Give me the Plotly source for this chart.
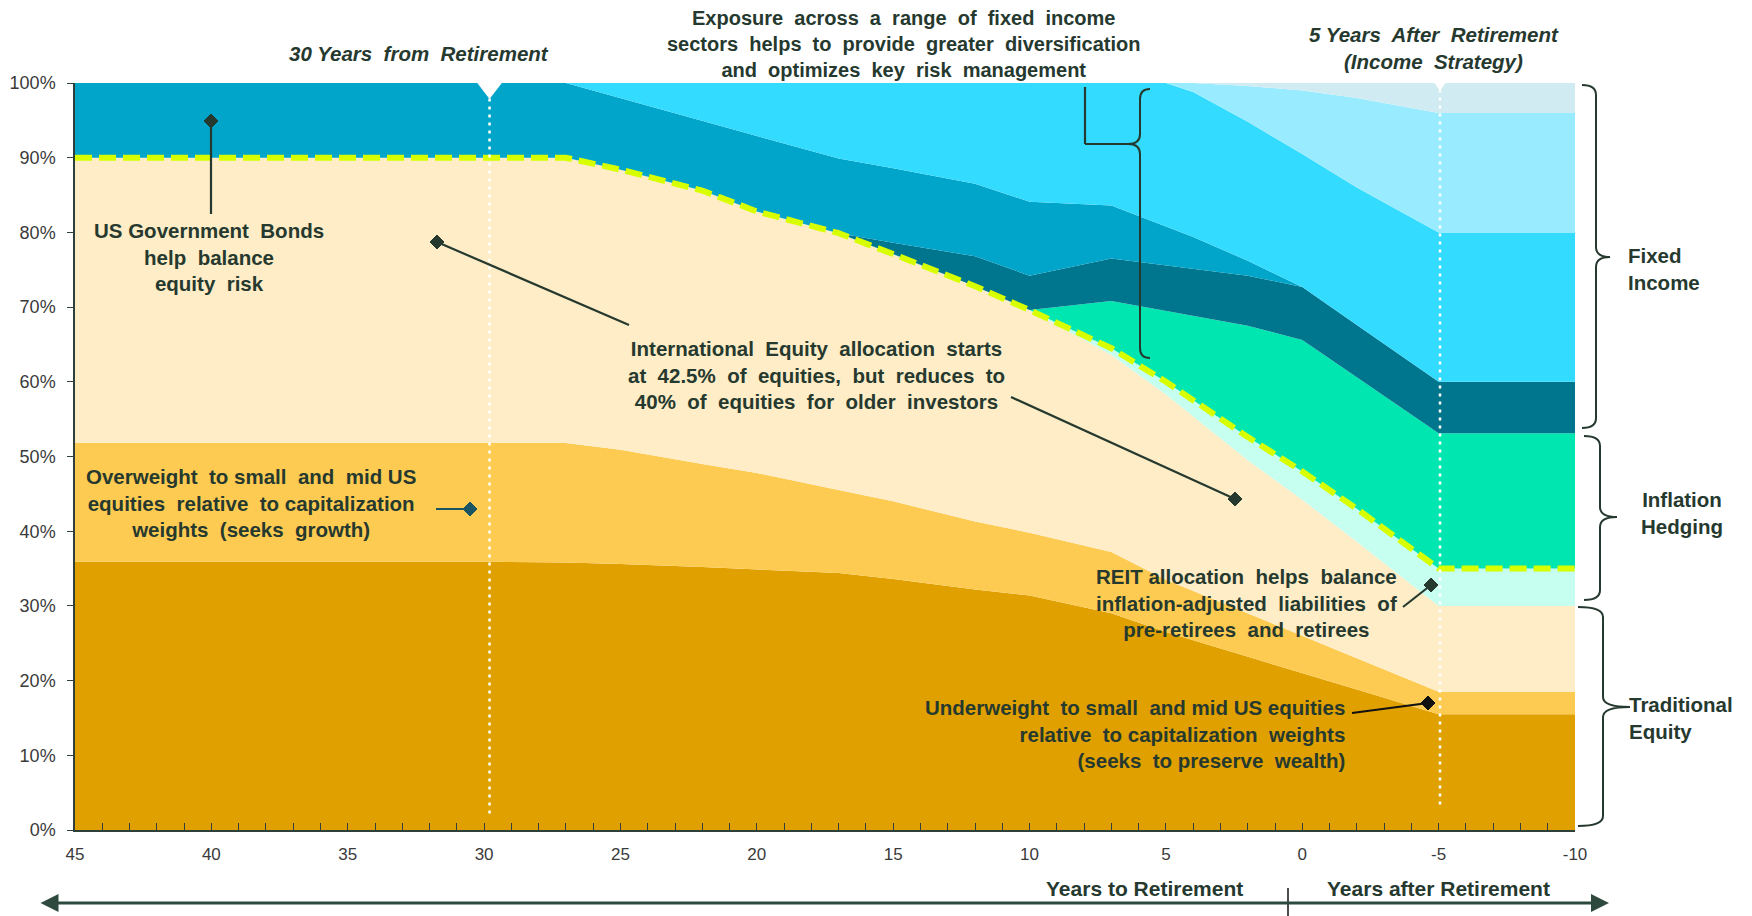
import numpy as np
import plotly.graph_objects as go

# ---------------- data (percent of portfolio) ----------------
years = [45, 40, 35, 30, 27, 25, 22, 20, 17, 15, 12, 10, 7, 5, 4, 2, 0, -2, -5, -10]

us_large_cap     = [35.9, 35.9, 35.9, 35.9, 35.8, 35.6, 35.2, 34.9, 34.4, 33.6, 32.2, 31.4, 29.0, 26.5, 25.4, 23.3, 21.0, 18.8, 15.5, 15.5]
us_small_mid_cap = [15.9, 15.9, 15.9, 15.9, 16.0, 15.3, 13.8, 12.9, 11.1, 10.4, 9.1, 8.4, 8.2, 7.0, 6.6, 5.7, 5.0, 4.2, 3.0, 3.0]
intl_equity      = [38.2, 38.2, 38.2, 38.2, 38.2, 37.5, 36.6, 35.0, 34.4, 33.1, 31.5, 29.8, 26.4, 24.8, 23.3, 20.5, 18.2, 15.6, 11.5, 11.5]
reits            = [0, 0, 0, 0, 0, 0, 0, 0, 0, 0, 0, 0, 0.9, 1.7, 2.2, 3.1, 3.8, 4.4, 5.0, 5.0]
commodities_tips = [0, 0, 0, 0, 0, 0, 0, 0, 0, 0, 0, 0, 6.3, 9.5, 11.3, 14.9, 17.6, 17.6, 18.1, 18.1]
high_yield       = [0, 0, 0, 0, 0, 0, 0, 0, 0, 1.5, 4.0, 4.6, 5.7, 6.1, 6.3, 6.7, 7.1, 7.0, 6.9, 6.9]
us_gov_bonds     = [10.0, 10.0, 10.0, 10.0, 10.0, 9.6, 9.3, 10.1, 10.0, 10.0, 9.7, 9.9, 7.1, 5.2, 4.3, 2.0, 0, 0, 0, 0]
core_bonds       = [0, 0, 0, 0, 0, 2.0, 5.1, 7.1, 10.1, 11.4, 13.5, 15.9, 16.4, 19.2, 19.4, 18.6, 17.8, 18.4, 20.0, 20.0]
short_bonds      = [0, 0, 0, 0, 0, 0, 0, 0, 0, 0, 0, 0, 0, 0, 1.2, 4.8, 8.5, 12.0, 16.0, 16.0]
cash             = [0, 0, 0, 0, 0, 0, 0, 0, 0, 0, 0, 0, 0, 0, 0, 0.4, 1.0, 2.0, 4.0, 4.0]

x_tick_vals = [45, 40, 35, 30, 25, 20, 15, 10, 5, 0, -5, -10]
x_tick_text = ["45", "40", "35", "30", "25", "20", "15", "10", "5", "0", "-5", "-10"]
y_tick_vals = [0, 10, 20, 30, 40, 50, 60, 70, 80, 90, 100]
y_tick_text = [f"{v}%" for v in y_tick_vals]

layers = [
    ("US Large Cap", us_large_cap, "#E0A000"),
    ("US Small/Mid Cap", us_small_mid_cap, "#FECB52"),
    ("International Equity", intl_equity, "#FEEDC6"),
    ("REITs", reits, "#C6FFF0"),
    ("Commodities / TIPS", commodities_tips, "#00E6B1"),
    ("High Yield", high_yield, "#00758E"),
    ("US Government Bonds", us_gov_bonds, "#00A5C9"),
    ("Core Bonds", core_bonds, "#33DBFF"),
    ("Short-Term Bonds", short_bonds, "#99ECFF"),
    ("Cash", cash, "#D0ECF2"),
]

TXT = "#26392F"
FONT = "Liberation Sans, Arial, sans-serif"
FS = 20.5

fig = go.Figure()
for name, vals, col in layers:
    fig.add_trace(go.Scatter(
        x=years, y=vals, name=name, stackgroup="alloc", mode="lines",
        line=dict(width=0, color=col), fillcolor=col, hoverinfo="skip"))

total_equity = np.array(us_large_cap) + np.array(us_small_mid_cap) + np.array(intl_equity) + np.array(reits)
fig.add_trace(go.Scatter(x=years, y=total_equity, mode="lines",
                         line=dict(color="#D8FF00", width=6, dash="17px,7px"),
                         hoverinfo="skip", name="Equity"))

# ---------------- layout geometry ----------------
# page has an 8px body margin; helpers take page-pixel positions
PAGE_OFF = 8
FIG_W, FIG_H = 1744, 908
L, T, W, H = 67, 75, 1500, 747          # figure-pixel plot area
PL, PT = L + PAGE_OFF, T + PAGE_OFF     # page-pixel plot origin

def X(px):
    return (px - PL) / W
def Y(py):
    return (PT + H - py) / H

shapes = []
annotations = []

def seg(x0, y0, x1, y1, color=TXT, width=2.2):
    shapes.append(dict(type="line", xref="paper", yref="paper",
                       x0=X(x0), y0=Y(y0), x1=X(x1), y1=Y(y1),
                       line=dict(color=color, width=width)))

def diamond(cx, cy, s=7, color=TXT):
    p = (f"M {X(cx)},{Y(cy - s)} L {X(cx + s)},{Y(cy)} L {X(cx)},{Y(cy + s)} "
         f"L {X(cx - s)},{Y(cy)} Z")
    shapes.append(dict(type="path", xref="paper", yref="paper", path=p,
                       fillcolor=color, line=dict(color=color, width=1)))

def brace(x0, xs, xt, yt, ym, yb, r=10):
    pts = (f"M {X(x0)},{Y(yt)} Q {X(xs)},{Y(yt)} {X(xs)},{Y(yt + r)} "
           f"L {X(xs)},{Y(ym - r)} Q {X(xs)},{Y(ym)} {X(xt)},{Y(ym)} "
           f"Q {X(xs)},{Y(ym)} {X(xs)},{Y(ym + r)} "
           f"L {X(xs)},{Y(yb - r)} Q {X(xs)},{Y(yb)} {X(x0)},{Y(yb)}")
    shapes.append(dict(type="path", xref="paper", yref="paper", path=pts,
                       line=dict(color=TXT, width=2)))

def note(text, px, py, size=FS, xanchor="center", align="center", italic=False, color=TXT):
    t = f"<b><i>{text}</i></b>" if italic else f"<b>{text}</b>"
    annotations.append(dict(text=t, xref="paper", yref="paper", x=X(px), y=Y(py),
                            xanchor=xanchor, yanchor="middle", align=align,
                            showarrow=False, font=dict(family=FONT, size=size, color=color)))

# dotted white markers near 30 years and -5 years
for xv, ybot, tw, th in [(29.8, 2.2, 0.45, 16), (-5.05, 3.4, 0.2, 8)]:
    shapes.append(dict(type="line", xref="x", yref="y", x0=xv, x1=xv, y0=ybot, y1=99.5,
                       line=dict(color="white", width=2.5, dash="3px,5px")))
    shapes.append(dict(type="path", xref="x", yref="paper",
                       path=f"M {xv - tw},1 L {xv + tw},1 L {xv},{1 - th / H} Z",
                       fillcolor="white", line=dict(color="white", width=0)))

# leader lines and diamonds
seg(211, 121, 211, 214)
diamond(211, 121)
seg(437, 242, 629, 325)
diamond(437, 242)
seg(1011, 397, 1235, 499)
diamond(1235, 499)
seg(436, 509, 470, 509, color="#1A5564")
diamond(470, 509, color="#1A5564")
seg(1403, 607, 1431, 585)
diamond(1431, 585)
seg(1352, 713, 1428, 703, color="#111111")
diamond(1428, 703, color="#111111")

# bracket for the fixed-income note
seg(1085, 87, 1085, 144)
seg(1085, 144, 1128, 144)
shapes.append(dict(type="path", xref="paper", yref="paper",
                   path=(f"M {X(1150)},{Y(89)} Q {X(1140)},{Y(89)} {X(1140)},{Y(99)} "
                         f"L {X(1140)},{Y(134)} Q {X(1140)},{Y(144)} {X(1128)},{Y(144)} "
                         f"Q {X(1140)},{Y(144)} {X(1140)},{Y(154)} "
                         f"L {X(1140)},{Y(348)} Q {X(1140)},{Y(358)} {X(1150)},{Y(358)}"),
                   line=dict(color=TXT, width=2)))

# right-hand braces
brace(1582, 1596, 1610, 85, 257, 428)
brace(1584, 1600, 1617, 436, 517, 600)
brace(1578, 1603, 1630, 607, 707, 826)

# bottom double arrow and divider
annotations.append(dict(x=X(1609), y=Y(903), ax=39 - 1609, ay=0, xref="paper", yref="paper",
                        axref="pixel", ayref="pixel", text="", showarrow=True,
                        arrowhead=2, startarrowhead=2, arrowside="end+start",
                        arrowsize=1.2, startarrowsize=1.2, arrowwidth=3, arrowcolor="#2E4A3E"))
seg(1288, 888, 1288, 916, color="#111111", width=1.5)

# texts
note("30 Years  from  Retirement", 419, 54, italic=True)
note("Exposure  across  a  range  of  fixed  income<br>sectors  helps  to  provide  greater  diversification<br>and  optimizes  key  risk  management",
     903, 44, size=20)
note("5 Years  After  Retirement<br>(Income  Strategy)", 1434, 48, italic=True)
note("US Government  Bonds<br>help  balance<br>equity  risk", 209, 257)
note("International  Equity  allocation  starts<br>at  42.5%  of  equities,  but  reduces  to<br>40%  of  equities  for  older  investors",
     816, 375)
note("Overweight  to small  and  mid US<br>equities  relative  to capitalization<br>weights  (seeks  growth)", 251, 503)
note("REIT allocation  helps  balance<br>inflation-adjusted  liabilities  of<br>pre-retirees  and  retirees", 1246, 603)
note("Underweight  to small  and mid US equities<br>relative  to capitalization  weights<br>(seeks  to preserve  wealth)",
     1347, 734, xanchor="right", align="right")
note("Fixed<br>Income", 1626, 269, xanchor="left", align="left")
note("Inflation<br>Hedging", 1682, 513)
note("Traditional<br>Equity", 1627, 718, xanchor="left", align="left")
note("Years to Retirement", 1245, 888, size=21, xanchor="right", align="right")
note("Years after Retirement", 1325, 888, size=21, xanchor="left", align="left")

fig.update_layout(
    width=FIG_W, height=FIG_H,
    margin=dict(l=L, r=FIG_W - L - W, t=T, b=FIG_H - T - H, autoexpand=False),
    plot_bgcolor="white", paper_bgcolor="white",
    showlegend=False, hovermode=False,
    shapes=shapes, annotations=annotations,
    font=dict(family=FONT, color="#3A3A3A"),
    xaxis=dict(range=[45, -10], tickmode="array", tickvals=x_tick_vals, ticktext=x_tick_text,
               ticks="inside", ticklen=7, tickwidth=1, tickcolor="#2F3F3A",
               minor=dict(tickmode="linear", tick0=0, dtick=1, ticks="inside", ticklen=7,
                          tickcolor="#2F3F3A", showgrid=False),
               showline=True, linecolor="#2F3F3A", linewidth=2, showgrid=False, zeroline=False,
               tickfont=dict(size=17, color="#3A3A3A"), ticklabelstandoff=8, automargin=False),
    yaxis=dict(range=[0, 100], tickmode="array", tickvals=y_tick_vals, ticktext=y_tick_text,
               ticks="outside", ticklen=6, tickcolor="#2F3F3A",
               showline=True, linecolor="#2F3F3A", linewidth=1.5, showgrid=False, zeroline=False,
               tickfont=dict(size=18, color="#3A3A3A"), ticklabelstandoff=8, automargin=False),
)

fig.write_html("out.html")
